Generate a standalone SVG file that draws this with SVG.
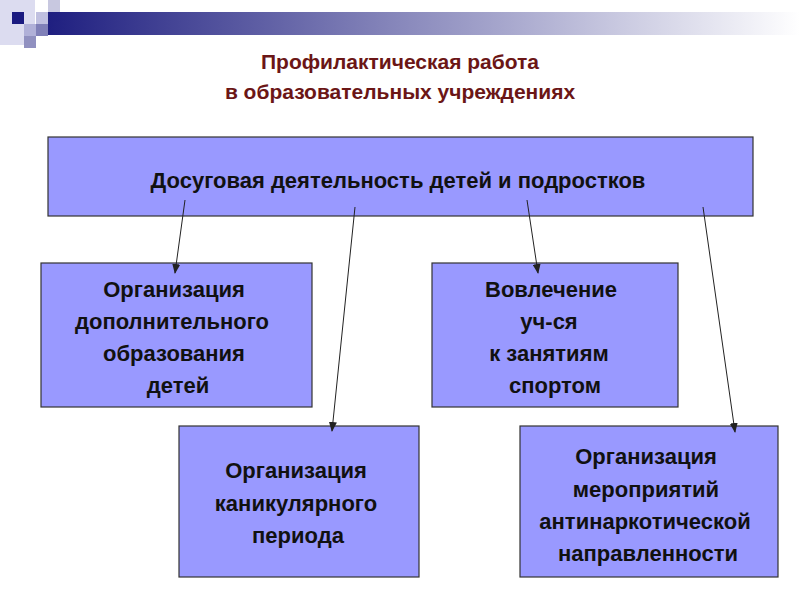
<svg xmlns="http://www.w3.org/2000/svg" width="800" height="600" viewBox="0 0 800 600">
<style>
.box{fill:#9999ff;stroke:#333;stroke-width:1.2}
.t{font-family:"Liberation Sans",Arial,sans-serif;font-weight:bold;font-size:22px;fill:#111;text-anchor:middle}
.ti{font-family:"Liberation Sans",Arial,sans-serif;font-weight:bold;font-size:21px;fill:#6b1616;text-anchor:middle}
.c{stroke:#222;stroke-width:1;fill:none;marker-end:url(#a)}
</style>
<defs>
<marker id="a" markerWidth="10" markerHeight="8" refX="9" refY="4" orient="auto" markerUnits="userSpaceOnUse"><path d="M0,0 L10,4 L0,8 z" fill="#222"/></marker>
<linearGradient id="g" x1="0" x2="1"><stop offset="0" stop-color="#1f1f80"/><stop offset="1" stop-color="#1f1f80" stop-opacity="0"/></linearGradient>
</defs>
<g id="decor">
<rect x="0" y="0" width="35" height="45" fill="#dcdcf0"/>
<rect x="48" y="0" width="12" height="22" fill="#c8c8e0"/>
<rect x="12" y="12" width="12" height="12" fill="#1a1a80"/>
<rect x="36" y="12" width="12" height="12" fill="#c0c0e0"/>
<rect x="24" y="24" width="12" height="12" fill="#b0b0d8"/>
<rect x="36" y="24" width="12" height="12" fill="#8080b8"/>
<rect x="24" y="36" width="12" height="12" fill="#9090c0"/>
<rect x="48" y="12" width="752" height="23" fill="url(#g)"/>
</g>
<g id="title">
<text class="ti" x="400" y="69">Профилактическая работа</text>
<text class="ti" x="400" y="99">в образовательных учреждениях</text>
</g>
<g id="top"><rect class="box" x="48" y="137" width="705" height="79"/>
<text class="t" x="398" y="188">Досуговая деятельность детей и подростков</text></g>
<g id="n1"><rect class="box" x="41" y="263" width="271" height="144"/>
<text class="t" x="174" y="297">Организация</text><text class="t" x="172" y="329">дополнительного</text><text class="t" x="174" y="361">образования</text><text class="t" x="178" y="393">детей</text></g>
<g id="n2"><rect class="box" x="432" y="263" width="246" height="144"/>
<text class="t" x="551" y="297">Вовлечение</text><text class="t" x="549" y="329">уч-ся</text><text class="t" x="549" y="361">к занятиям</text><text class="t" x="555" y="393">спортом</text></g>
<g id="n3"><rect class="box" x="179" y="426" width="240" height="151"/>
<text class="t" x="296" y="478">Организация</text><text class="t" x="296" y="511">каникулярного</text><text class="t" x="298" y="543">периода</text></g>
<g id="n4"><rect class="box" x="520" y="426" width="258" height="151"/>
<text class="t" x="646" y="464">Организация</text><text class="t" x="646" y="497">мероприятий</text><text class="t" x="645" y="529">антинаркотической</text><text class="t" x="648" y="561">направленности</text></g>
<g id="connectors">
<line class="c" x1="185" y1="200" x2="175" y2="273"/>
<line class="c" x1="355" y1="207" x2="332" y2="431"/>
<line class="c" x1="527" y1="200" x2="538" y2="273"/>
<line class="c" x1="703" y1="207" x2="735" y2="432"/>
</g>
</svg>
